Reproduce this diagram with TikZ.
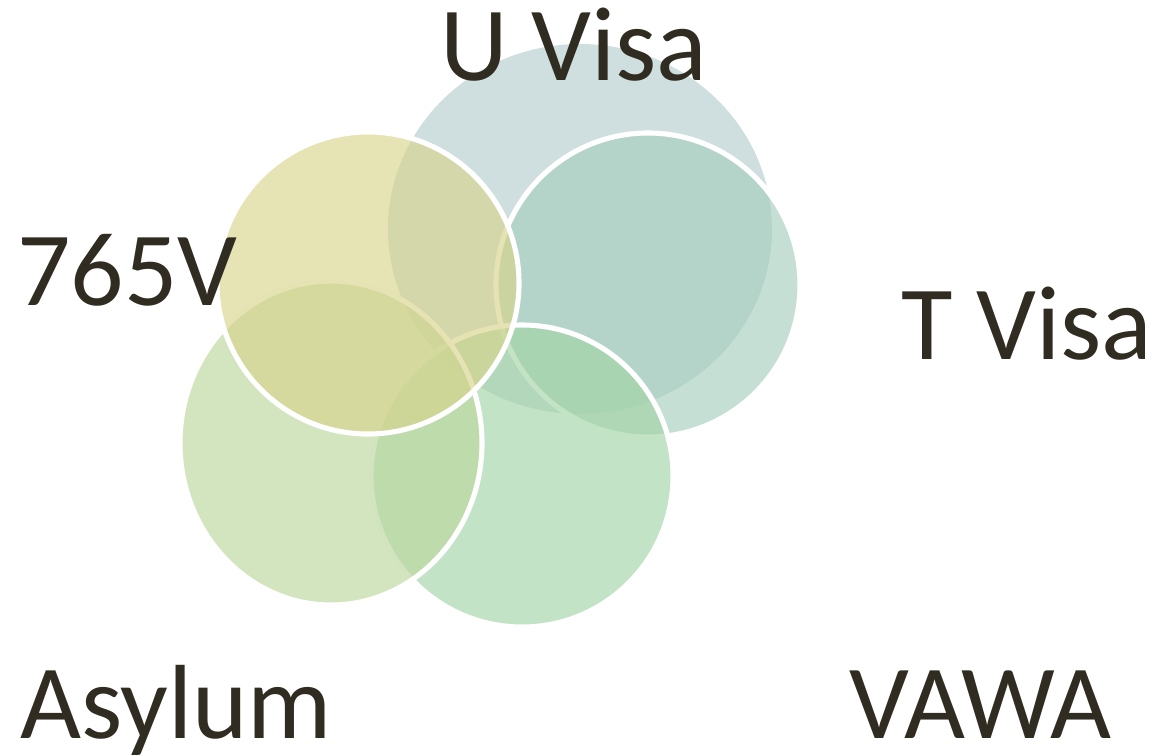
\documentclass[tikz,border=0pt]{standalone}
\usepackage{fontspec}
\setmainfont{Carlito}
\definecolor{ink}{RGB}{48,44,34}
\definecolor{cU}{RGB}{181,206,206}
\definecolor{cT}{RGB}{168,206,190}
\definecolor{cV}{RGB}{216,212,141}
\definecolor{cA}{RGB}{187,215,157}
\definecolor{cW}{RGB}{163,212,167}
\begin{document}
\begin{tikzpicture}[x=0.02cm,y=-0.02cm,
  blob/.style={fill opacity=0.65},
  ring/.style={draw=white,line width=2.9pt},
  word/.style={anchor=base west,inner sep=0pt,text=ink,font=\fontsize{60}{62}\selectfont}]
  \useasboundingbox (0,0) rectangle (1155,755);
  % the five sets
  \fill[cU,blob] (580,229) ellipse [x radius=192, y radius=185];
  \filldraw[fill=cT,blob,ring] (648,285) circle [radius=152];
  \filldraw[fill=cW,blob,ring] (522,476) circle [radius=151];
  \filldraw[fill=cA,blob,ring] (331,443) ellipse [x radius=151, y radius=162];
  \filldraw[fill=cV,blob,ring] (368,283) circle [radius=151];
  % names
  \node[word] (uvisa) at (440,80) {U Visa};
  \node[word] (i765v) at (17,305) {765V};
  \node[word] (tvisa) at (901,359) {T Visa};
  \node[word] (asylum) at (20,738) {Asylum};
  \node[word] (vawa) at (849,738) {VAWA};
\end{tikzpicture}
\end{document}
